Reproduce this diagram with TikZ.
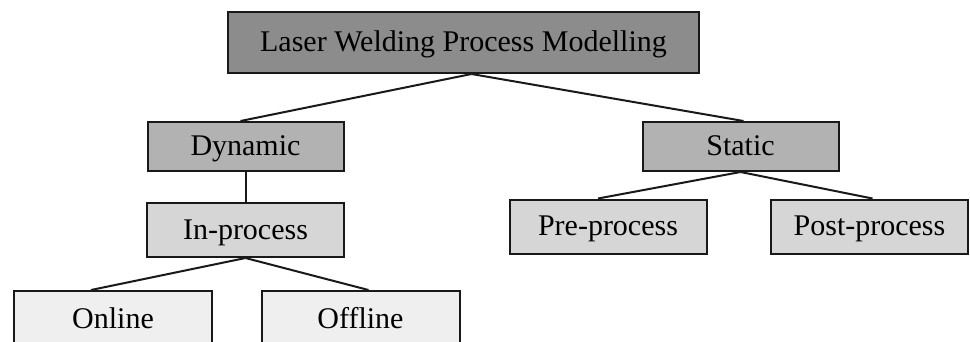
\documentclass[tikz,border=0pt]{standalone}
\usepackage{fontspec}
\setmainfont{Liberation Serif}
\usetikzlibrary{positioning}

\definecolor{topgray}{HTML}{8C8C8C}
\definecolor{midgray}{HTML}{B2B2B2}
\definecolor{lightgray}{HTML}{D6D6D6}
\definecolor{palegray}{HTML}{EFEFEF}

\begin{document}
\begin{tikzpicture}[x=1pt, y=-1pt,
	block/.style={draw=black!90, line width=2pt, inner sep=0pt, text centered, text height=21pt, text depth=3pt, font=\fontsize{30}{34}\selectfont},
	topblock/.style={block, fill=topgray, minimum width=471pt, minimum height=61pt},
	levelone/.style={block, fill=midgray, minimum width=196pt, minimum height=49pt},
	leveltwo/.style={block, fill=lightgray, minimum width=197pt, minimum height=54pt},
	levelthree/.style={block, fill=palegray, minimum width=198pt, minimum height=56pt},
	link/.style={draw=black!90, line width=2pt},
	node distance=30pt]

	\useasboundingbox (0,0) rectangle (970,341);
	\clip (0,0) rectangle (970,341);

	% Root
	\node[topblock] (root) at (463.5,42.5) {Laser Welding Process Modelling};

	% Dynamic branch
	\node[levelone] (dynamic) at (245.5,146.5) {Dynamic};
	\node[leveltwo, below=30pt of dynamic] (inprocess) {In-process};
	\node[levelthree] (online) at (113,319) {Online};
	\node[levelthree] (offline) at (360.5,319) {Offline};

	% Static branch
	\node[levelone] (static) at (740.5,146.5) {Static};
	\node[leveltwo] (preprocess) at (608,226.5) {Pre-process};
	\node[leveltwo] (postprocess) at (869.5,226.5) {Post-process};

	% Links
	\draw[link] ([xshift=8pt]root.south) -- ([xshift=-5pt]dynamic.north);
	\draw[link] ([xshift=8pt]root.south) -- ([xshift=3pt]static.north);
	\draw[link] (dynamic) -- (inprocess);
	\draw[link] (inprocess.south) -- ([xshift=-22pt]online.north);
	\draw[link] (inprocess.south) -- ([xshift=8pt]offline.north);
	\draw[link] (static.south) -- ([xshift=-10pt]preprocess.north);
	\draw[link] (static.south) -- ([xshift=3pt]postprocess.north);

\end{tikzpicture}
\end{document}
